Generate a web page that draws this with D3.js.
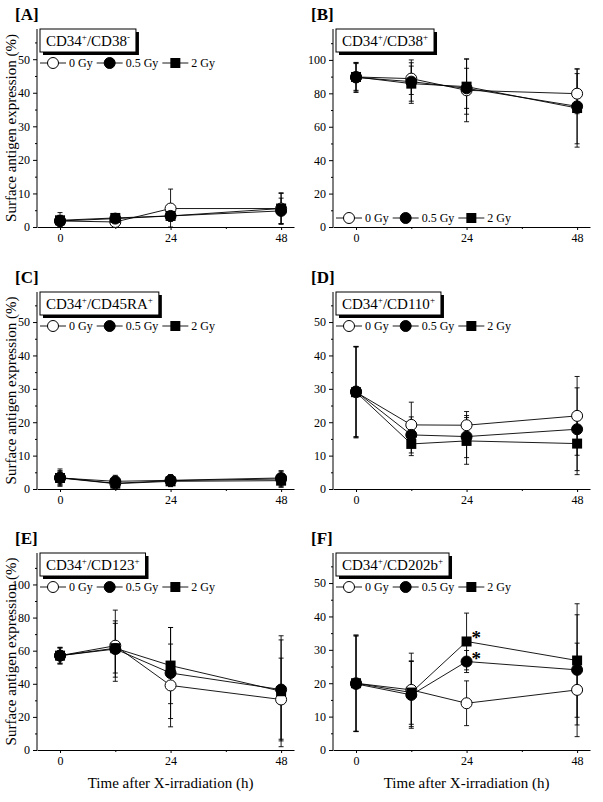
<!DOCTYPE html>
<html>
<head>
<meta charset="utf-8">
<script src="https://cdn.jsdelivr.net/npm/d3@7"></script>
<style>
  body { margin: 0; background: #fff; }
  svg { display: block; font-family: "Liberation Serif", "Times New Roman", serif; }
</style>
</head>
<body>
<svg id="chart" width="603" height="802"></svg>
<script>
// time points (h) and doses
const times = [0, 12, 24, 48];
const doses = ["0 Gy", "0.5 Gy", "2 Gy"];
const xTicks = [0, 24, 48];
const xMinor = [12, 36];

// [A] CD34+/CD38-   rows: 0 Gy, 0.5 Gy, 2 Gy
const cd38negMean = [[1.8, 1.5, 5.5, 5.5], [1.8, 2.5, 3.3, 4.8], [2.0, 2.7, 3.3, 5.5]];
const cd38negSd   = [[1.5, 0.8, 5.8, 4.5], [2.5, 1.0, 1.5, 3.8], [1.5, 1.0, 1.5, 4.7]];
// [B] CD34+/CD38+
const cd38posMean = [[89.8, 88.8, 81.8, 79.8], [89.5, 87.0, 83.0, 72.2], [89.8, 85.8, 84.0, 71.2]];
const cd38posSd   = [[8.0, 9.5, 18.8, 12.0], [9.0, 13.0, 12.0, 22.4], [8.5, 10.5, 16.5, 23.4]];
// [C] CD34+/CD45RA+
const cd45Mean = [[3.4, 1.7, 2.5, 3.0], [3.3, 2.3, 2.6, 3.3], [3.3, 1.6, 2.3, 2.5]];
const cd45Sd   = [[2.6, 2.0, 1.8, 2.3], [2.0, 1.8, 1.6, 2.2], [2.2, 1.5, 1.5, 2.0]];
// [D] CD34+/CD110+
const cd110Mean = [[29.0, 19.2, 19.1, 21.9], [29.2, 16.2, 15.7, 17.9], [29.0, 13.5, 14.4, 13.6]];
const cd110Sd   = [[13.7, 6.8, 4.1, 11.8], [13.5, 5.4, 6.3, 12.4], [13.5, 3.5, 7.0, 9.3]];
// [E] CD34+/CD123+
const cd123Mean = [[57.0, 63.0, 39.0, 30.5], [57.0, 61.0, 46.5, 36.5], [57.0, 61.5, 51.0, 35.5]];
const cd123Sd   = [[5.0, 21.5, 25.0, 25.0], [5.0, 17.0, 27.5, 30.0], [4.5, 15.0, 23.0, 33.5]];
// [F] CD34+/CD202b+
const cd202Mean = [[20.0, 18.0, 14.0, 18.0], [19.8, 16.5, 26.5, 24.0], [20.0, 17.2, 32.5, 26.8]];
const cd202Sd   = [[14.4, 11.0, 6.7, 14.0], [14.3, 10.0, 3.3, 16.5], [14.4, 9.5, 8.5, 17.0]];

const yTicks50 = [0, 10, 20, 30, 40, 50];
const yTicks100 = [0, 20, 40, 60, 80, 100];

const panels = [
  { letter: "A", title: [["CD34", "+"], ["/CD38", "-"]], mean: cd38negMean, sd: cd38negSd, yMax: 59, ticks: yTicks50, col: 0, row: 0, legend: "top" },
  { letter: "B", title: [["CD34", "+"], ["/CD38", "+"]], mean: cd38posMean, sd: cd38posSd, yMax: 118.5, ticks: yTicks100, col: 1, row: 0, legend: "bottom" },
  { letter: "C", title: [["CD34", "+"], ["/CD45RA", "+"]], mean: cd45Mean, sd: cd45Sd, yMax: 59, ticks: yTicks50, col: 0, row: 1, legend: "top" },
  { letter: "D", title: [["CD34", "+"], ["/CD110", "+"]], mean: cd110Mean, sd: cd110Sd, yMax: 59, ticks: yTicks50, col: 1, row: 1, legend: "top" },
  { letter: "E", title: [["CD34", "+"], ["/CD123", "+"]], mean: cd123Mean, sd: cd123Sd, yMax: 119, ticks: yTicks100, col: 0, row: 2, legend: "top" },
  { letter: "F", title: [["CD34", "+"], ["/CD202b", "+"]], mean: cd202Mean, sd: cd202Sd, yMax: 59, ticks: yTicks50, col: 1, row: 2, legend: "top", stars: [2, 1] }
];

const colLeft = [37, 333];
const colRight = [294, 590];
const rowTop = [29, 292, 553];
const rowBottom = [227, 489, 750];

const svg = d3.select("#chart");

function marker(g, i, x, y) {
  if (i === 2) {
    g.append("rect").attr("x", x - 5).attr("y", y - 5).attr("width", 10).attr("height", 10)
      .attr("fill", "#000");
  } else {
    g.append("circle").attr("cx", x).attr("cy", y).attr("r", 5.5)
      .attr("fill", i === 0 ? "#fff" : "#000").attr("stroke", "#000").attr("stroke-width", 1);
  }
}

function drawPanel(p) {
  const left = colLeft[p.col], right = colRight[p.col];
  const top = rowTop[p.row], bottom = rowBottom[p.row];
  const x = d3.scaleLinear().domain([-5, 50.8]).range([left, right]);
  const y = d3.scaleLinear().domain([0, p.yMax]).range([bottom, top]);
  const g = svg.append("g");

  // axes
  g.append("g").attr("transform", `translate(0,${bottom})`)
    .call(d3.axisBottom(x).tickValues(xTicks).tickSize(3).tickSizeOuter(0).tickPadding(3));
  g.append("g").attr("transform", `translate(0,${bottom})`)
    .call(d3.axisBottom(x).tickValues(xMinor).tickSize(2).tickFormat(""))
    .select(".domain").remove();
  const ya = g.append("g").attr("transform", `translate(${left},0)`)
    .call(d3.axisLeft(y).tickValues(p.ticks).tickSize(4).tickSizeOuter(0).tickPadding(3));
  const step = p.ticks[1] - p.ticks[0];
  const minor = d3.range(step / 2, p.yMax, step);
  g.append("g").attr("transform", `translate(${left},0)`)
    .call(d3.axisLeft(y).tickValues(minor).tickSize(2).tickFormat(""))
    .select(".domain").remove();
  ya.select(".domain").attr("d", `M0,${bottom}V${top}`);
  g.selectAll(".tick text").attr("font-size", 12).attr("font-family", "Liberation Serif").attr("fill", "#000");
  g.selectAll("path.domain, .tick line").attr("stroke", "#000");

  // panel letter
  g.append("text").attr("x", left - 22).attr("y", top - 9)
    .attr("font-size", 17).attr("font-weight", "bold").text(`[${p.letter}]`);

  // series lines
  const line = d3.line().x((d, k) => x(times[k])).y(d => y(d));
  p.mean.forEach((m, i) => {
    g.append("path").attr("d", line(m)).attr("fill", "none")
      .attr("stroke", "#000").attr("stroke-width", 0.9);
  });
  // error bars
  p.mean.forEach((m, i) => {
    m.forEach((v, k) => {
      const cx = x(times[k]);
      const lo = y(Math.max(0, v - p.sd[i][k])), hi = y(v + p.sd[i][k]);
      g.append("line").attr("x1", cx).attr("x2", cx).attr("y1", lo).attr("y2", hi)
        .attr("stroke", "#000").attr("stroke-width", 0.9);
      [lo, hi].forEach(yy => g.append("line").attr("x1", cx - 2.5).attr("x2", cx + 2.5)
        .attr("y1", yy).attr("y2", yy).attr("stroke", "#000").attr("stroke-width", 0.9));
    });
  });
  // markers
  p.mean.forEach((m, i) => m.forEach((v, k) => marker(g, i, x(times[k]), y(v))));

  if (p.stars) {
    p.stars.forEach(i => {
      g.append("text").attr("x", x(24) + 5).attr("y", y(p.mean[i][2]) + 3)
        .attr("font-size", 19).attr("font-weight", "bold").text("*");
    });
  }

  // title box with shadow
  const bx = left + 3, by = top;
  const shadow = g.append("rect");
  const box = g.append("rect");
  const t = g.append("text").attr("x", bx + 6).attr("y", by + 17).attr("font-size", 15);
  p.title.forEach((part, j) => {
    t.append("tspan").attr("dy", j > 0 ? 6 : 0).text(part[0]);
    t.append("tspan").attr("dy", -6).attr("font-size", 9).text(part[1]);
  });
  const tw = t.node().getComputedTextLength();
  shadow.attr("x", bx + 3).attr("y", by + 3).attr("width", tw + 12).attr("height", 23).attr("fill", "#000");
  box.attr("x", bx).attr("y", by).attr("width", tw + 12).attr("height", 23)
    .attr("fill", "#fff").attr("stroke", "#000").attr("stroke-width", 1);

  // legend row
  const ly = p.legend === "top" ? top + 34 : bottom - 9;
  let lx = left + 3;
  doses.forEach((d, i) => {
    g.append("line").attr("x1", lx).attr("x2", lx + 26).attr("y1", ly).attr("y2", ly)
      .attr("stroke", "#000").attr("stroke-width", 0.9);
    marker(g, i, lx + 13, ly);
    const lt = g.append("text").attr("x", lx + 29).attr("y", ly + 4).attr("font-size", 12).text(d);
    lx += 29 + lt.node().getComputedTextLength() + 4;
  });

  // axis titles
  if (p.col === 0) {
    g.append("text").attr("transform", `translate(16,${(top + bottom) / 2}) rotate(-90)`)
      .attr("text-anchor", "middle").attr("font-size", 15).text("Surface antigen expression (%)");
  }
  if (p.row === 2) {
    g.append("text").attr("x", x(24)).attr("y", bottom + 38)
      .attr("text-anchor", "middle").attr("font-size", 15).text("Time after X-irradiation (h)");
  }
}

panels.forEach(drawPanel);
</script>
</body>
</html>
